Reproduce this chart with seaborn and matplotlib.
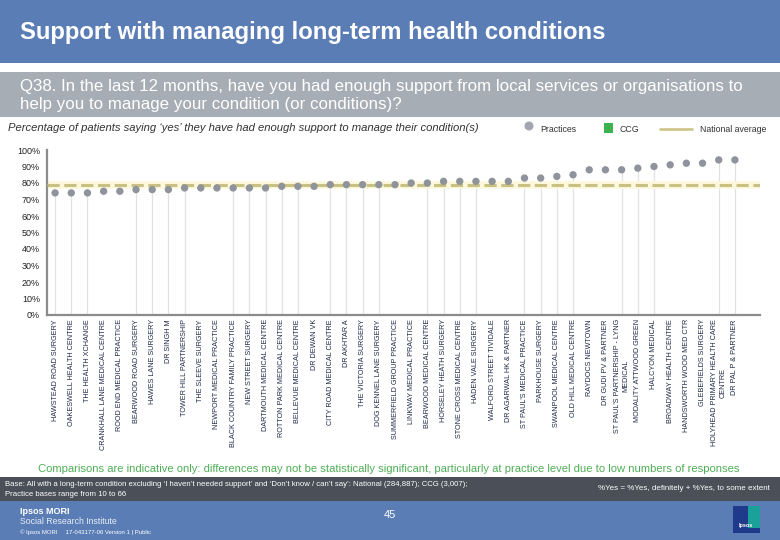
import matplotlib
matplotlib.use("Agg")
import matplotlib.pyplot as plt
from matplotlib.patches import Rectangle, Ellipse
from matplotlib.lines import Line2D
import seaborn as sns
import pandas as pd

practices = [
    "HAWSTEAD ROAD SURGERY", "OAKESWELL HEALTH CENTRE", "THE HEALTH XCHANGE",
    "CRANKHALL LANE MEDICAL CENTRE", "ROOD END MEDICAL PRACTICE", "BEARWOOD ROAD SURGERY",
    "HAWES LANE SURGERY", "DR SINGH M", "TOWER HILL PARTNERSHIP", "THE SLEEVE SURGERY",
    "NEWPORT MEDICAL PRACTICE", "BLACK COUNTRY FAMILY PRACTICE", "NEW STREET SURGERY",
    "DARTMOUTH MEDICAL CENTRE", "ROTTON PARK MEDICAL CENTRE", "BELLEVUE MEDICAL CENTRE",
    "DR DEWAN VK", "CITY ROAD MEDICAL CENTRE", "DR AKHTAR A", "THE VICTORIA SURGERY",
    "DOG KENNEL LANE SURGERY", "SUMMERFIELD GROUP PRACTICE", "LINKWAY MEDICAL PRACTICE",
    "BEARWOOD MEDICAL CENTRE", "HORSELEY HEATH SURGERY", "STONE CROSS MEDICAL CENTRE",
    "HADEN VALE SURGERY", "WALFORD STREET TIVIDALE", "DR AGARWAL HK & PARTNER",
    "ST PAUL'S MEDICAL PRACTICE", "PARKHOUSE SURGERY", "SWANPOOL MEDICAL CENTRE",
    "OLD HILL MEDICAL CENTRE", "RAYDOCS NEWTOWN", "DR GUDI PV & PARTNER",
    "ST PAUL'S PARTNERSHIP - LYNG\nMEDICAL", "MODALITY ATTWOOD GREEN", "HALCYON MEDICAL",
    "BROADWAY HEALTH CENTRE", "HANDSWORTH WOOD MED CTR", "GLEBEFIELDS SURGERY",
    "HOLYHEAD PRIMARY HEALTH CARE\nCENTRE", "DR PAL P & PARTNER",
]
values = [74, 74, 74, 75, 75, 76, 76, 76, 77, 77, 77, 77, 77, 77, 78, 78, 78,
          79, 79, 79, 79, 79, 80, 80, 81, 81, 81, 81, 81, 83, 83, 84, 85,
          88, 88, 88, 89, 90, 91, 92, 92, 94, 94]
# practices whose drop-line is visible in the reference
dropline_shown = [1, 1, 1, 0, 0, 1, 1, 1, 1, 0, 0, 1, 1, 1, 1, 1, 0,
                  1, 1, 1, 1, 0, 0, 1, 1, 1, 1, 0, 0, 1, 1, 1, 1,
                  0, 0, 1, 1, 1, 0, 0, 0, 1, 1]
national_average = 79
yticks = [0, 10, 20, 30, 40, 50, 60, 70, 80, 90, 100]

W, H = 780, 540
fig = plt.figure(figsize=(W / 100, H / 100), dpi=100)
sns.set_style("white")
plt.rcParams['font.family'] = ['Liberation Sans', 'DejaVu Sans']

def fx(px):
    return px / W

def fy(py):
    return 1 - py / H

def rect(x0, y0, x1, y1, color, z=0):
    fig.add_artist(Rectangle((fx(x0), fy(y1)), fx(x1) - fx(x0), (y1 - y0) / H,
                             transform=fig.transFigure, facecolor=color,
                             edgecolor='none', zorder=z))

BLUE = "#5a7db5"
# header
rect(0, 0, W, 63, BLUE)
fig.text(fx(20), fy(32), "Support with managing long-term health conditions",
         color="white", fontsize=17.2, fontweight="bold", va="center", ha="left")
rect(0, 72, W, 117, "#a7adb5")
fig.text(fx(20), fy(86), "Q38. In the last 12 months, have you had enough support from local services or organisations to",
         color="white", fontsize=12.2, va="center", ha="left")
fig.text(fx(20), fy(104), "help you to manage your condition (or conditions)?",
         color="white", fontsize=12.2, va="center", ha="left")
fig.text(fx(8), fy(128), "Percentage of patients saying \u2018yes\u2019 they have had enough support to manage their condition(s)",
         color="#333333", fontsize=8.1, style="italic", va="center", ha="left")

# legend
fig.add_artist(Ellipse((fx(529), fy(126)), 9 / W, 9 / H, transform=fig.transFigure,
                       facecolor="#a3a6ae", edgecolor="none"))
fig.text(fx(540), fy(129), "Practices", fontsize=6.3, color="#333333", va="center")
rect(604, 123, 613, 133, "#3cb34f")
fig.text(fx(620), fy(129), "CCG", fontsize=6.3, color="#333333", va="center")
fig.add_artist(Line2D([fx(660), fx(692)], [fy(129), fy(129)], transform=fig.transFigure,
                      color="#cfc78e", lw=2))
fig.text(fx(700), fy(129), "National average", fontsize=6.3, color="#333333", va="center")

# chart
ax = fig.add_axes([fx(47), fy(315), fx(760) - fx(47), (315 - 150) / H])
df = pd.DataFrame({"practice": practices, "value": values})

for i, (v, s) in enumerate(zip(values, dropline_shown)):
    if s:
        ax.vlines(i, 0, v, color="#e2e2e2", lw=0.9, zorder=1)

ax.axhline(national_average, color="#fcf8dc", lw=5.5, zorder=2, solid_capstyle="butt")
ax.axhline(national_average, color="#c9c184", lw=2.2, ls=(0, (4, 1.5)), zorder=3)

sns.scatterplot(data=df, x="practice", y="value", ax=ax, color="#8f939b",
                s=28, edgecolor="none", zorder=4, legend=False)

n = len(practices)
ax.set_xlim(-0.5, n - 1 + 1.55)
ax.set_ylim(0, 100)
ax.set_yticks(yticks)
ax.set_yticklabels([f"{t}%" for t in yticks], fontsize=6.5, color="#222222")
ax.set_xticks(range(n))
ax.set_xticklabels(practices, rotation=90, fontsize=5.2, color="#1e2a48",
                   va="top", ha="center", multialignment="center")
ax.set_xticks([i - 0.5 for i in range(n + 1)], minor=True)
ax.tick_params(axis="x", which="major", length=0, pad=3)
ax.tick_params(axis="x", which="minor", length=3, width=1, color="#8c8c8c", direction="in")
ax.tick_params(axis="y", length=3, width=1, color="#8c8c8c", direction="out", pad=2)
ax.set_xlabel("")
ax.set_ylabel("")
for side in ["top", "right"]:
    ax.spines[side].set_visible(False)
for side in ["left", "bottom"]:
    ax.spines[side].set_color("#8c8c8c")
    ax.spines[side].set_linewidth(1.6)
ax.set_facecolor("white")

# footer
fig.text(fx(389), fy(469), "Comparisons are indicative only: differences may not be statistically significant, particularly at practice level due to low numbers of responses",
         color="#4fae55", fontsize=8.1, ha="center", va="center")
rect(0, 477, W, 501, "#4a4f58")
fig.text(fx(5), fy(484), "Base: All with a long-term condition excluding \u2018I haven\u2019t needed support\u2019 and \u2018Don\u2019t know / can\u2019t say\u2019: National (284,887); CCG (3,007);",
         color="white", fontsize=5.6, va="center")
fig.text(fx(5), fy(495), "Practice bases range from 10 to 66", color="white", fontsize=5.6, va="center")
fig.text(fx(770), fy(488), "%Yes = %Yes, definitely + %Yes, to some extent", color="white",
         fontsize=5.8, va="center", ha="right")
rect(0, 501, W, H, BLUE)
fig.text(fx(20), fy(511), "Ipsos MORI", color="white", fontsize=6.5, fontweight="bold", va="center")
fig.text(fx(20), fy(522), "Social Research Institute", color="#e6ecf5", fontsize=6.3, va="center")
fig.text(fx(20), fy(532), "\u00a9 Ipsos MORI     17-043177-06 Version 1 | Public", color="white",
         fontsize=4.3, va="center")
fig.text(fx(390), fy(515), "45", color="white", fontsize=8, ha="center", va="center")
rect(733, 506, 760, 533, "#1f3a8a", z=1)
rect(748, 506, 760, 528, "#1aa19a", z=2)
rect(741, 510, 748, 522, "#1f3a8a", z=3)
fig.text(fx(746), fy(526), "Ipsos", color="white", fontsize=4, fontweight="bold",
         ha="center", va="center", zorder=4)

fig.savefig("out.png", dpi=100)
